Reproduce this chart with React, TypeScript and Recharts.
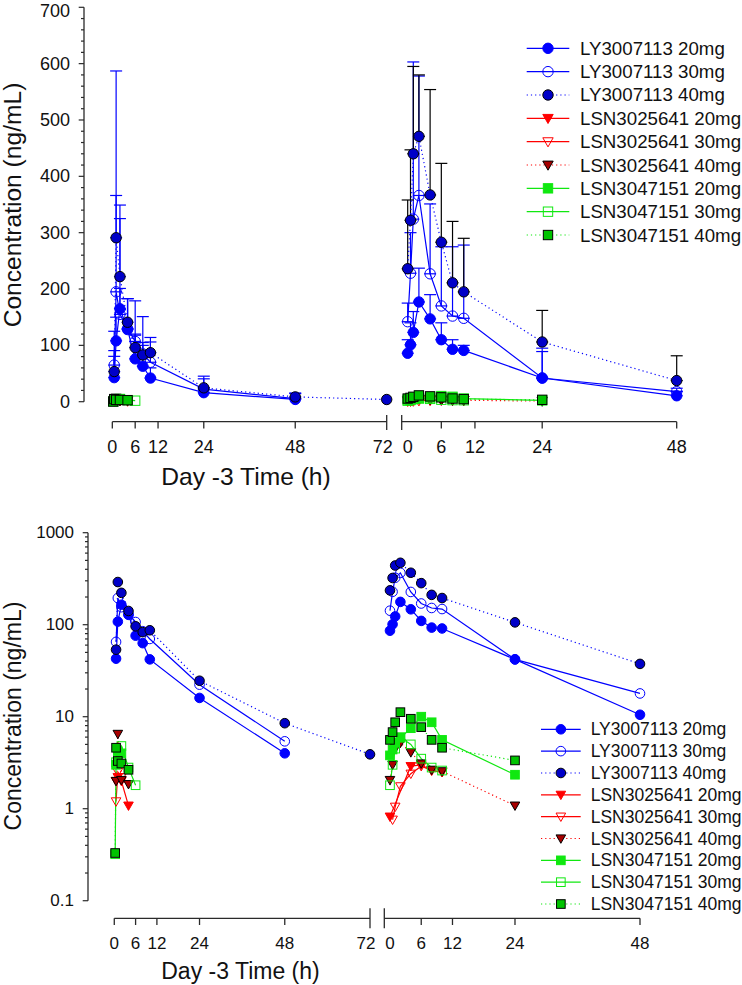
import React from 'react';
import { ComposedChart, Line, XAxis, YAxis, ErrorBar, ReferenceLine } from 'recharts';

const FONT = '"Liberation Sans", Arial, Helvetica, sans-serif';
const AXIS = '#2a2a2a';
const BLUE = '#0000ff';
const NAVY = '#0000c8';
const RED = '#ff0000';
const DARKRED = '#a80000';
const GREEN = '#10e810';
const DKGREEN = '#00c400';
const DOT = '1.2 3';

// sampling times (h)
const day3Times = [0.25, 0.5, 1, 2, 4, 6, 8, 10, 24, 48, 72];
const day1Times = [0, 0.5, 1, 2, 4, 6, 8, 10, 24, 48];

// LY3007113 mean concentrations (ng/mL)
const ly20Day3 = [null, 42.7, 108, 165, 128, 76, 63, 42, 16, 4.0, null];
const ly30Day3 = [null, 65, 195, 155, 130, 107, 85, 70, 22.3, 5.4, null];
const ly40Day3 = [null, 53.5, 291, 222, 141, 96, 83, 87, 24.6, 8.5, 3.9];
const ly20Day1 = [86, 101, 123, 177, 147, 110, 93, 91, 42, 10.5];
const ly30Day1 = [142, 228, 324, 366, 227, 170, 152, 148, 42, 17.9];
const ly40Day1 = [236, 322, 440, 471, 367, 283, 211, 195, 106, 37.5];

// LY3007113 SD (upper bars, top panel)
const ly20SdDay3 = [null, 48, 42, 160, 55, 44, 42, 18, 9, 2, null];
const ly30SdDay3 = [null, 60, 392, 46, 53, 72, 66, 44, 23, 9, null];
const ly40SdDay3 = [null, 27, 75, 127, 42, 22, 17, 19, 16, 7, null];
const ly20SdDay1 = [24, 39, 37, 60, 43, 30, 17, 9, 47, 8];
const ly30SdDay1 = [33, 72, 279, 212, 124, 105, 123, 130, 53, 6];
const ly40SdDay1 = [122, 125, 155, 109, 187, 140, 109, 95, 56, 44];

// LSN3025641
const a20Day3 = [null, 2.0, 2.2, 2.0, 1.08, null, null, null, null, null, null];
const a30Day3 = [null, 1.2, 2.5, 2.2, null, null, null, null, null, null, null];
const a40Day3 = [null, 2.0, 6.5, 2.05, 1.85, null, null, null, null, null, null];
const a20Day1 = [0.82, null, null, null, 2.9, 3.0, 2.6, 2.5, null, null];
const a30Day1 = [null, 0.76, 1.05, 1.75, 2.4, 2.9, 2.6, 2.5, null, null];
const a40Day1 = [2.05, 3.0, 4.5, 5.2, 4.1, 3.1, 2.65, 2.55, 1.08, null];

// LSN3047151
const b20Day3 = [null, 3.0, 4.2, 4.0, null, null, null, null, null, null, null];
const b30Day3 = [0.32, 3.2, 4.0, 4.8, 2.8, 1.8, null, null, null, null, null];
const b40Day3 = [0.33, 4.6, 3.3, 3.1, 2.65, null, null, null, null, null, null];
const b20Day1 = [3.8, 4.4, 5.2, 5.9, 7.5, 10, 8.7, 5.6, 2.34, null];
const b30Day1 = [1.8, 3.0, 4.5, 6.0, 5.0, 3.5, 2.8, 2.6, null, null];
const b40Day1 = [5.6, 6.8, 8.7, 11.2, 9.5, 7.7, 5.6, 4.6, 3.35, null];

// axis ticks
const linMajor = [0, 100, 200, 300, 400, 500, 600, 700];
const linTicks = Array.from({ length: 36 }, (_, i) => i * 20);
const logMajor = [0.1, 1, 10, 100, 1000];
const logTicks = [0.1, 1, 10, 100]
  .flatMap((d) => [1, 2, 3, 4, 5, 6, 7, 8, 9].map((k) => +(k * d).toPrecision(3)))
  .concat([1000]);
const day3Ticks = [0, 6, 12, 24, 48, 72];
const day1Ticks = [0, 6, 12, 24, 48];

const SERIES = [
  { key: 'ly20', name: 'LY3007113 20mg', shape: 'circle', fill: BLUE, edge: BLUE, color: BLUE, dotted: false },
  { key: 'ly30', name: 'LY3007113 30mg', shape: 'circle', fill: 'none', edge: BLUE, color: BLUE, dotted: false },
  { key: 'ly40', name: 'LY3007113 40mg', shape: 'circle', fill: NAVY, edge: '#000', color: BLUE, dotted: true },
  { key: 'a20', name: 'LSN3025641 20mg', shape: 'tri', fill: RED, edge: RED, color: RED, dotted: false },
  { key: 'a30', name: 'LSN3025641 30mg', shape: 'tri', fill: 'none', edge: RED, color: RED, dotted: false },
  { key: 'a40', name: 'LSN3025641 40mg', shape: 'tri', fill: DARKRED, edge: '#000', color: RED, dotted: true },
  { key: 'b20', name: 'LSN3047151 20mg', shape: 'square', fill: GREEN, edge: GREEN, color: GREEN, dotted: false },
  { key: 'b30', name: 'LSN3047151 30mg', shape: 'square', fill: 'none', edge: GREEN, color: GREEN, dotted: false },
  { key: 'b40', name: 'LSN3047151 40mg', shape: 'square', fill: DKGREEN, edge: '#000', color: GREEN, dotted: true },
];

const err = (sd: number | null) => (sd == null ? null : [0, sd]);

const day3Rows = day3Times.map((t, i) => ({
  t,
  ly20: ly20Day3[i], ly30: ly30Day3[i], ly40: ly40Day3[i],
  a20: a20Day3[i], a30: a30Day3[i], a40: a40Day3[i],
  b20: b20Day3[i], b30: b30Day3[i], b40: b40Day3[i],
  ly20Err: err(ly20SdDay3[i]), ly30Err: err(ly30SdDay3[i]), ly40Err: err(ly40SdDay3[i]),
}));

const day1Rows = day1Times.map((t, i) => ({
  t,
  ly20: ly20Day1[i], ly30: ly30Day1[i], ly40: ly40Day1[i],
  a20: a20Day1[i], a30: a30Day1[i], a40: a40Day1[i],
  b20: b20Day1[i], b30: b30Day1[i], b40: b40Day1[i],
  ly20Err: err(ly20SdDay1[i]), ly30Err: err(ly30SdDay1[i]), ly40Err: err(ly40SdDay1[i]),
}));

function Marker({ cx, cy, s, size }: any) {
  if (cx == null || cy == null || isNaN(cx) || isNaN(cy)) return null;
  const sw = 1;
  if (s.shape === 'circle') {
    return <circle cx={cx} cy={cy} r={size} fill={s.fill} stroke={s.edge} strokeWidth={sw} />;
  }
  if (s.shape === 'square') {
    const h = size * 0.9;
    return <rect x={cx - h} y={cy - h} width={2 * h} height={2 * h} fill={s.fill} stroke={s.edge} strokeWidth={sw} />;
  }
  const w = size;
  return (
    <polygon
      points={`${cx - w},${cy - 0.75 * w} ${cx + w},${cy - 0.75 * w} ${cx},${cy + w}`}
      fill={s.fill}
      stroke={s.edge}
      strokeWidth={sw}
    />
  );
}

function XTick(props: any) {
  const { x, y, payload, breaks = [], noLine = [], noLabel = [], up = 7, down = 8, fs = 18 } = props;
  const v = payload.value;
  const isBreak = breaks.includes(v);
  return (
    <g>
      {isBreak ? (
        <line x1={x} x2={x} y1={y - up} y2={y + down} stroke={AXIS} strokeWidth={1.3} />
      ) : !noLine.includes(v) ? (
        <line x1={x} x2={x} y1={y} y2={y + 6.7} stroke={AXIS} strokeWidth={1.3} />
      ) : null}
      {!noLabel.includes(v) && (
        <text
          x={isBreak ? x - 4 : x}
          y={y + 25}
          textAnchor="middle"
          dominantBaseline="central"
          fontSize={fs}
          fontFamily={FONT}
          fill="#111"
        >
          {v}
        </text>
      )}
    </g>
  );
}

function YTick(props: any) {
  const { x, y, payload, majors = [], fs = 18, gap = 14, minY = 0 } = props;
  const v = payload.value;
  const major = majors.some((m: number) => Math.abs(m - v) < 1e-9);
  return (
    <g>
      <line x1={x - (major ? 5.3 : 3)} x2={x} y1={y} y2={y} stroke={AXIS} strokeWidth={1.2} />
      {major && (
        <text
          x={x - gap}
          y={Math.max(y, minY)}
          textAnchor="end"
          dominantBaseline="central"
          fontSize={fs}
          fontFamily={FONT}
          fill="#111"
        >
          {v}
        </text>
      )}
    </g>
  );
}

function Segment(props: any) {
  const {
    rows, left, top, width, height, margin, yWidth, xDomain, yDomain, yLog, xTicks,
    showY, yTicks, yMajor, yFrom, fullAxis, breaks, noLine, noLabel, up, down,
    errColors, fs, size, labelMinY = 0,
  } = props;
  return (
    <div style={{ position: 'absolute', left, top }}>
      <ComposedChart width={width} height={height} data={rows} margin={margin}>
        <XAxis
          dataKey="t"
          type="number"
          domain={xDomain}
          ticks={xTicks}
          interval={0}
          height={40}
          tickSize={0}
          tickMargin={0}
          tickLine={false}
          axisLine={fullAxis ? { stroke: AXIS, strokeWidth: 1.3 } : false}
          tick={<XTick breaks={breaks} noLine={noLine} noLabel={noLabel} up={up} down={down} fs={fs} />}
        />
        <YAxis
          type="number"
          scale={yLog ? 'log' : 'linear'}
          domain={yDomain}
          ticks={yTicks}
          interval={0}
          width={showY ? yWidth : 0}
          hide={!showY}
          tickSize={0}
          tickMargin={0}
          tickLine={false}
          axisLine={false}
          tick={<YTick majors={yMajor} fs={fs} minY={labelMinY} />}
        />
        {showY && (
          <ReferenceLine
            segment={[{ x: xDomain[0], y: yFrom }, { x: xDomain[0], y: yDomain[1] }]}
            stroke={AXIS}
            strokeWidth={1.3}
            ifOverflow="visible"
          />
        )}
        {!fullAxis && (
          <ReferenceLine
            segment={[{ x: 0, y: yDomain[0] }, { x: xDomain[1], y: yDomain[0] }]}
            stroke={AXIS}
            strokeWidth={1.3}
            ifOverflow="visible"
          />
        )}
        {SERIES.map((s) => (
          <Line
            key={s.key}
            type="linear"
            dataKey={s.key}
            stroke={s.color}
            strokeWidth={1.2}
            strokeDasharray={s.dotted ? DOT : undefined}
            connectNulls
            isAnimationActive={false}
            activeDot={false}
            dot={(p: any) => <Marker key={`${s.key}-${p.index}`} cx={p.cx} cy={p.cy} s={s} size={size} />}
          >
            {errColors && errColors[s.key] && (
              <ErrorBar dataKey={`${s.key}Err`} direction="y" width={6} stroke={errColors[s.key]} strokeWidth={1.2} />
            )}
          </Line>
        ))}
      </ComposedChart>
    </div>
  );
}

function LegendBlock({ y0, step, from, to, textX, fs, size }: any) {
  return (
    <g>
      {SERIES.map((s, i) => {
        const cy = y0 + i * step;
        return (
          <g key={s.key}>
            <line x1={from} x2={to} y1={cy} y2={cy} stroke={s.color} strokeWidth={1.2} strokeDasharray={s.dotted ? DOT : undefined} />
            <Marker cx={(from + to) / 2} cy={cy} s={s} size={size} />
            <text x={textX} y={cy} dominantBaseline="central" fontSize={fs} fontFamily={FONT} fill="#111">
              {s.name}
            </text>
          </g>
        );
      })}
    </g>
  );
}

const topYDomain = [-35.5, 700];
const botYDomain = [0.0644, 1000];

export default function App() {
  return (
    <div style={{ position: 'absolute', left: 0, top: 0, width: 742, height: 985, background: '#fff', fontFamily: FONT, overflow: 'hidden' }}>
      {/* top panel: linear */}
      <Segment
        rows={day3Rows} left={0} top={-12} width={400} height={492}
        margin={{ top: 19.3, right: 13.3, bottom: 18.3, left: 0 }} yWidth={84}
        xDomain={[-7.43, 72]} yDomain={topYDomain} xTicks={day3Ticks}
        showY yTicks={linTicks} yMajor={linMajor} yFrom={0} labelMinY={22.5}
        fullAxis={false} breaks={[72]} noLine={[]} noLabel={[]} up={6.7} down={8.3}
        errColors={{ ly20: BLUE, ly30: BLUE, ly40: BLUE }} fs={18} size={5.2}
      />
      <Segment
        rows={day1Rows} left={394} top={-12} width={348} height={492}
        margin={{ top: 19.3, right: 65.3, bottom: 18.3, left: 7.7 }} yWidth={0}
        xDomain={[-1.07, 48]} yDomain={topYDomain} xTicks={[-1.07, ...day1Ticks]}
        showY={false} fullAxis breaks={[-1.07]} noLine={[0]} noLabel={[-1.07]} up={6.7} down={8.3}
        errColors={{ ly20: BLUE, ly30: BLUE, ly40: '#000' }} fs={18} size={5.2}
      />
      {/* bottom panel: log */}
      <Segment
        rows={day3Rows} left={0} top={480} width={384} height={505}
        margin={{ top: 52.7, right: 14, bottom: 26.7, left: 0 }} yWidth={88}
        xDomain={[-7.4, 72]} yDomain={botYDomain} yLog xTicks={day3Ticks}
        showY yTicks={logTicks} yMajor={logMajor} yFrom={0.1}
        fullAxis={false} breaks={[72]} noLine={[]} noLabel={[]} up={10} down={10}
        errColors={null} fs={17} size={4.8}
      />
      <Segment
        rows={day1Rows} left={378} top={480} width={364} height={505}
        margin={{ top: 52.7, right: 102, bottom: 26.7, left: 6.3 }} yWidth={0}
        xDomain={[-1.09, 48]} yDomain={botYDomain} yLog xTicks={[-1.09, ...day1Ticks]}
        showY={false} fullAxis breaks={[-1.09]} noLine={[0]} noLabel={[-1.09]} up={10} down={10}
        errColors={null} fs={17} size={4.8}
      />
      <svg width={742} height={985} style={{ position: 'absolute', left: 0, top: 0, pointerEvents: 'none' }}>
        <text transform="translate(12.5,205) rotate(-90)" textAnchor="middle" dominantBaseline="central" fontSize={24.6} fontFamily={FONT} fill="#111">
          Concentration (ng/mL)
        </text>
        <text x={246} y={485} textAnchor="middle" fontSize={24.6} fontFamily={FONT} fill="#111">
          Day -3 Time (h)
        </text>
        <text transform="translate(12.5,716) rotate(-90)" textAnchor="middle" dominantBaseline="central" fontSize={23} fontFamily={FONT} fill="#111">
          Concentration (ng/mL)
        </text>
        <text x={240.5} y={979} textAnchor="middle" fontSize={23} fontFamily={FONT} fill="#111">
          Day -3 Time (h)
        </text>
        <LegendBlock y0={48.3} step={23.34} from={526.7} to={569.3} textX={580} fs={18.7} size={5.2} />
        <LegendBlock y0={729.3} step={21.84} from={541} to={580.7} textX={590.7} fs={17.5} size={4.8} />
      </svg>
    </div>
  );
}
